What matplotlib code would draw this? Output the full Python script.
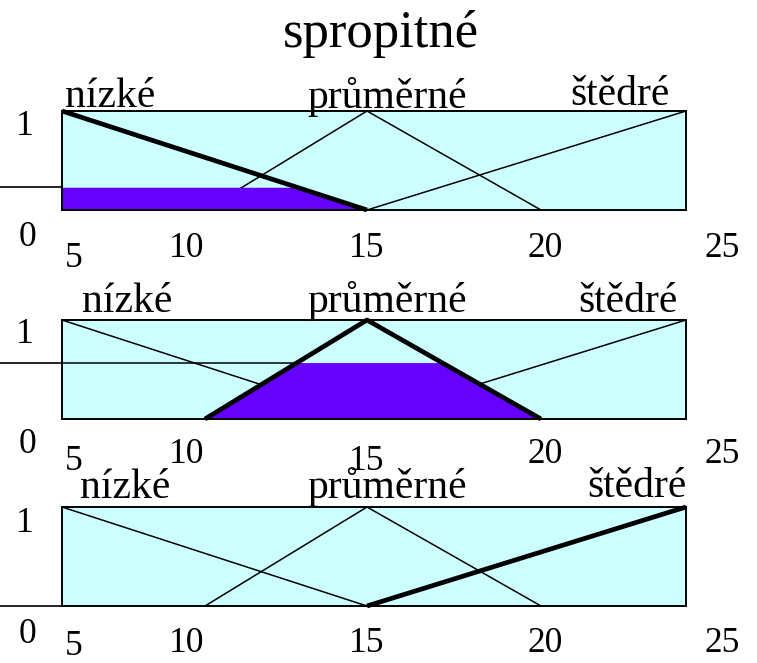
"""
Fuzzy output variable 'spropitné' (tip): membership functions nízké / průměrné / štědré,
each clipped at its rule strength (Mamdani implication), one panel per rule.
"""
import numpy as np
import matplotlib
matplotlib.use("Agg")
import matplotlib.pyplot as plt
from matplotlib.scale import FuncScale

plt.rcParams["font.family"] = ["Liberation Serif", "DejaVu Serif"]

W, H = 757, 663

# ---- data ----
title = "spropitné"
terms = ["nízké", "průměrné", "štědré"]
mf_x = [[5, 15], [10, 15, 20], [15, 25]]
mf_y = [[1, 0], [0, 1, 0], [0, 1]]
tick_values = [5, 10, 15, 20, 25]
tick_labels = ["5", "10", "15", "20", "25"]
clip_levels = [0.23, 0.57, 0.0]      # rule strength per panel
active_term = [0, 1, 2]              # which term each rule fires

# ---- layout (pixels of the 757x663 figure) ----
box_left, box_right = 62, 686
box_tops = [111, 320, 507]
box_h = 99
# the drawing is not evenly spaced along x: pixel offsets of 5,10,15,20,25 inside the box
x_knots_px = [0, 143, 305, 479, 624]
tick_dx = [12, -18, 0, 4, 36]                      # label offset vs. tick position (px)
tick_base = [[267, 257, 257, 257, 257],
             [470, 463, 470, 463, 463],
             [655, 652, 652, 652, 652]]
one_zero_base = [(135, 246), (343, 453), (532, 643)]
term_left = [[65, 307, 570], [82, 307, 578], [80, 307, 587]]
term_base = [[107, 108, 105], [312, 312, 312], [498, 498, 497]]

CYAN = "#CCFFFF"
PURPLE = "#6600FF"
FS_TICK, FS_TERM, FS_TITLE = 25.5, 30, 38


def fx(px):
    return px / W


def fy(py):
    return 1 - py / H


def fwd(x):
    return np.interp(x, tick_values, x_knots_px)


def inv(p):
    return np.interp(p, x_knots_px, tick_values)


fig = plt.figure(figsize=(W / 100, H / 100), dpi=100)
fig.text(fx(381), fy(47), title, ha="center", va="baseline", fontsize=FS_TITLE)

for i in range(3):
    top = box_tops[i]
    ax = fig.add_axes([fx(box_left), fy(top + box_h), (box_right - box_left) / W, box_h / H])
    ax.set_xscale(FuncScale(ax, (fwd, inv)))
    ax.set_xlim(5, 25)
    ax.set_ylim(0, 1)
    ax.set_facecolor(CYAN)
    ax.set_xticks([])
    ax.set_yticks([])
    for s in ax.spines.values():
        s.set_linewidth(1.4)
        s.set_color("black")
        s.set_zorder(5)

    lvl = clip_levels[i]
    k = active_term[i]

    # thin membership functions
    for j in range(3):
        if j != k:
            ax.plot(mf_x[j], mf_y[j], color="black", lw=1.1, zorder=2, clip_on=False)

    # clipped (implied) fuzzy set of the active term
    xs = list(mf_x[k])
    ys = list(mf_y[k])
    for a in range(len(xs) - 1):
        y0, y1 = ys[a], ys[a + 1]
        if (y0 - lvl) * (y1 - lvl) < 0:
            xs.append(xs[a] + (lvl - y0) / (y1 - y0) * (xs[a + 1] - xs[a]))
    xs = np.array(sorted(set(xs)))
    yc = np.minimum(np.interp(xs, mf_x[k], mf_y[k]), lvl)
    if lvl > 0:
        ax.fill_between(xs, 0, yc, color=PURPLE, lw=0, zorder=3)
        x_end = xs[yc >= lvl - 1e-9].min()
    else:
        x_end = 5

    # rule strength line coming in from the left edge of the figure
    # (x below 5 is outside the scale knots, so go through axes coords for that part)
    ax.plot([-box_left / (box_right - box_left), 0], [lvl, lvl], color="black", lw=1.2,
            zorder=2.5, clip_on=False, transform=ax.get_yaxis_transform())
    ax.plot([5, x_end], [lvl, lvl], color="black", lw=1.1, zorder=2.5, clip_on=False)

    # thick active membership function
    ax.plot(mf_x[k], mf_y[k], color="black", lw=3.4, zorder=4,
            solid_capstyle="butt", clip_on=False)

    # axis texts
    b1, b0 = one_zero_base[i]
    fig.text(fx(25), fy(b1), "1", ha="center", va="baseline", fontsize=FS_TICK)
    fig.text(fx(27), fy(b0), "0", ha="center", va="baseline", fontsize=FS_TICK)
    for v, lab, dx, base in zip(tick_values, tick_labels, tick_dx, tick_base[i]):
        fig.text(fx(box_left + fwd(v) + dx), fy(base), lab,
                 ha="center", va="baseline", fontsize=FS_TICK)
    for j, name in enumerate(terms):
        fig.text(fx(term_left[i][j]), fy(term_base[i][j]), name,
                 ha="left", va="baseline", fontsize=FS_TERM)

plt.savefig("out.png", dpi=100)
plt.close()
